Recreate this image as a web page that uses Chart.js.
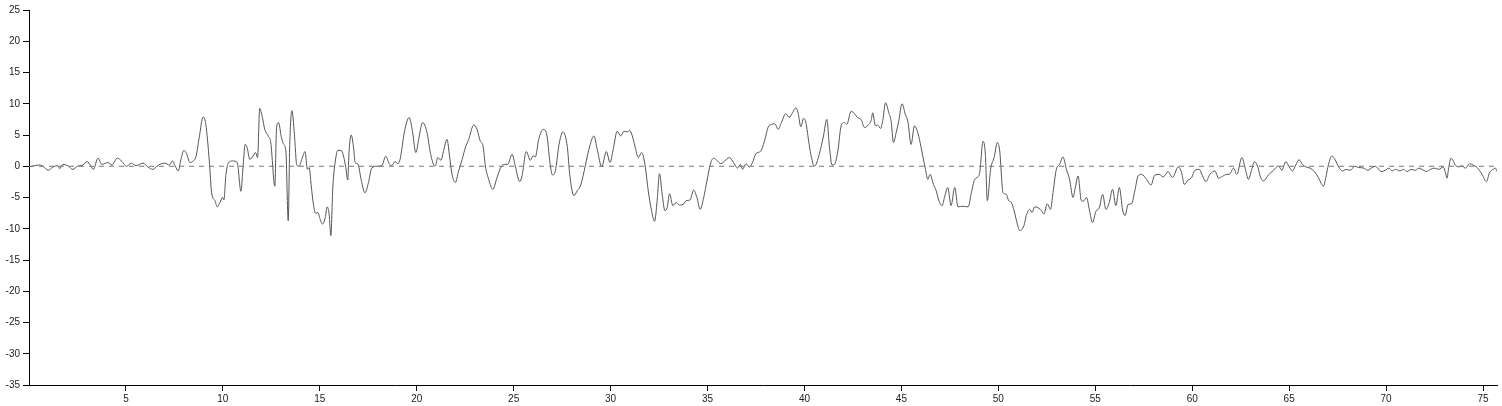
<!DOCTYPE html>
<html>
<head>
<meta charset="utf-8">
<script src="https://cdn.jsdelivr.net/npm/chart.js@4/dist/chart.umd.min.js"></script>
<style>
  html, body { margin: 0; padding: 0; background: #fff; }
  #wrap { width: 1502px; height: 406px; position: relative; }
</style>
</head>
<body>
<div id="wrap"><canvas id="chart"></canvas></div>
<script>
// ── Data (turning points of the trace) ──
const xs = [
  0, 0.55, 0.72, 1.0, 1.24, 1.5, 1.58, 1.75, 2.0, 2.27, 2.49, 2.78, 3.0, 3.18, 3.32, 3.56, 3.76, 4.07, 4.28, 4.55, 4.8, 5.03, 5.28, 5.53, 5.88, 6.13, 6.39, 6.68,
  7.01, 7.24, 7.41, 7.53, 7.7, 7.82, 7.99, 8.13, 8.3, 8.47, 8.61, 8.78, 8.98, 9.12, 9.3, 9.42, 9.59, 9.71, 9.85, 9.98, 10.05, 10.16, 10.28, 10.5, 10.74, 10.93, 11.05, 11.15, 11.25, 11.39, 11.56, 11.68, 11.79, 11.9, 12.04, 12.16, 12.34, 12.47, 12.68, 12.77, 12.87, 13.02, 13.14, 13.25, 13.37, 13.45, 13.56,
  13.69, 13.81, 13.93, 14.07, 14.24, 14.36, 14.45, 14.55, 14.67, 14.79, 14.9, 15.02, 15.14, 15.28, 15.38, 15.48, 15.57, 15.67, 15.79, 15.93, 16.1, 16.22, 16.34, 16.44, 16.51, 16.62, 16.74, 16.82, 16.96, 17.13, 17.33, 17.51, 17.68, 17.94, 18.2, 18.4, 18.58, 18.71, 18.88, 19.02, 19.14, 19.37, 19.61, 19.78, 19.95, 20.13, 20.3,
  20.53, 20.7, 20.88, 20.96, 21.08, 21.25, 21.39, 21.56, 21.7, 21.82, 21.99, 22.16, 22.34, 22.51, 22.68, 22.94, 23.11, 23.28, 23.42, 23.54, 23.71, 23.93, 24.14, 24.35, 24.52, 24.69, 24.92, 25.08, 25.31, 25.43, 25.65, 25.86, 26.0, 26.12, 26.29, 26.52, 26.72, 26.86, 27.0, 27.15,
  27.34, 27.54, 27.77, 27.89, 28.11, 28.28, 28.46, 28.63, 28.88, 29.14, 29.31, 29.54, 29.78, 29.97, 30.12, 30.34, 30.52, 30.69, 30.86, 30.98, 31.12, 31.25, 31.43, 31.6, 31.77, 31.94, 32.11, 32.27, 32.4, 32.52, 32.66, 32.8, 32.92, 33.04, 33.21, 33.38, 33.56, 33.78, 33.9,
  34.1, 34.28, 34.45, 34.62, 34.8, 34.97, 35.14, 35.31, 35.48, 35.69, 35.89, 36.12, 36.34, 36.55, 36.69, 36.81, 36.98, 37.15, 37.32, 37.49, 37.75, 37.96, 38.13, 38.3, 38.47, 38.64, 38.81, 39.04, 39.21, 39.38, 39.55, 39.67, 39.81, 39.95, 40.07, 40.24, 40.36, 40.5, 40.58, 40.76,
  40.98, 41.15, 41.29, 41.42, 41.55, 41.72, 41.89, 42.06, 42.18, 42.41, 42.58, 42.75, 42.92, 43.09, 43.32, 43.44, 43.52, 43.66, 43.78, 43.92, 44.04, 44.18, 44.35, 44.47, 44.59, 44.73, 44.86, 45.03, 45.2, 45.33, 45.5, 45.67, 45.79, 45.93, 46.1, 46.24, 46.36, 46.48, 46.65, 46.79, 46.93, 47.1, 47.22, 47.39, 47.56,
  47.75, 47.92, 48.18, 48.44, 48.61, 48.78, 48.95, 49.04, 49.21, 49.33, 49.43, 49.6, 49.78, 49.95, 50.07, 50.24, 50.41, 50.53, 50.67, 50.81, 50.98, 51.1, 51.32, 51.44, 51.62, 51.74, 51.87, 52.08, 52.22, 52.35, 52.52, 52.69, 52.82, 52.99, 53.16, 53.33, 53.51, 53.68, 53.85, 53.97, 54.11, 54.28,
  54.38, 54.55, 54.69, 54.86, 55.03, 55.2, 55.38, 55.55, 55.72, 55.89, 56.06, 56.24, 56.41, 56.53, 56.7, 56.87, 57.04, 57.21, 57.39, 57.64, 57.87, 58.07, 58.3, 58.5, 58.76, 58.98, 59.28, 59.45, 59.59, 59.79, 59.97, 60.14, 60.36, 60.53, 60.71, 60.91, 61.17,
  61.36, 61.56, 61.79, 61.91, 62.13, 62.3, 62.56, 62.73, 62.9, 63.07, 63.21, 63.38, 63.5, 63.67, 63.93, 64.19, 64.45, 64.62, 64.83, 65.0, 65.17, 65.34, 65.51, 65.68, 65.86, 66.08, 66.3, 66.51, 66.65, 66.77, 66.89, 67.03, 67.2, 67.37, 67.55, 67.75, 67.93,
  68.16, 68.37, 68.59, 68.85, 69.05, 69.28, 69.45, 69.57, 69.74, 69.96, 70.14, 70.31, 70.48, 70.71, 70.91, 71.08, 71.29, 71.51, 71.68, 71.85, 72.08, 72.29, 72.5, 72.72, 72.94, 73.06, 73.14, 73.23, 73.35, 73.45, 73.57, 73.75, 73.92, 74.09, 74.31, 74.48, 74.69, 74.95, 75.17, 75.34, 75.52, 75.64, 75.72
];

const ys = [
  -0.1, 0.2, 0, -0.64, -0.1, 0.1, -0.4, 0.3, 0.1, -0.5, 0, 0.2, 0.75, 0.1, -0.5, 1.3, 0.3, 0.6, 0.2, 1.3, 0.75, 0, 0.5, 0.1, 0.5, -0.1, -0.5, 0.2,
  0.5, 0.2, 0.85, 0.1, -0.75, 0.85, 2.55, 2.0, 0.6, 0.85, 1.5, 4.6, 7.9, 6.7, 0.85, -4.25, -5.5, -6.5, -5.8, -5.0, -5.4, -1.3, 0.5, 0.85, 0.6, -4.0, 0.3, 3.5, 3.0, 1.1, 1.65, 2.2, 1.4, 9.25, 7.8, 5.9, 4.85, 3.8, -3.2, 6.2, 7.0, 4.6, 3.5, 2.45, -8.7, 3.5, 8.9,
  5.1, 0.2, 0, 1.1, 2.35, -0.5, -0.2, -2.9, -6.1, -7.55, -7.4, -8.5, -9.25, -8.2, -6.5, -7.65, -11.1, -3.4, 0.6, 2.55, 2.55, 1.65, -0.2, -2.2, 2.45, 5.0, 3.0, 0.6, 0.4, -2.1, -4.25, -2.6, -0.3, 0, 0.1, 1.6, 0.4, 0.1, 0.75, 0.4, 1.1, 5.6, 7.8, 5.6, 2.2, 4.85, 7.0,
  5.4, 2.2, 0.2, 0.05, 1.4, 0.95, 2.55, 4.3, 1.4, -1.3, -2.6, -0.75, 1.1, 3.0, 4.3, 6.6, 5.9, 4.0, 3.25, 0.05, -2.1, -3.7, -1.8, -0.1, 0.3, 0.3, 1.9, 0.05, -2.45, -1.55, 2.35, 0.95, 1.65, 1.5, 4.3, 5.9, 4.85, 0.85, -1.4, -0.75,
  3.5, 5.5, 3.0, -1.3, -4.7, -3.9, -3.0, -0.85, 2.7, 4.85, 2.7, -0.1, 2.35, 0.6, 2.45, 5.6, 4.85, 5.6, 5.5, 5.75, 4.85, 3.25, 1.4, 2.2, 0.3, -3.9, -7.1, -8.8, -5.5, -1.2, -4.5, -7.1, -6.6, -4.4, -6.3, -5.8, -6.2, -6.0, -5.5,
  -5.4, -3.8, -5.0, -6.9, -5.0, -2.35, 0.3, 1.3, 0.95, 0.4, 0.85, 1.4, 0.6, -0.3, 0.3, -0.5, 0.4, -0.1, 0.6, 2.0, 2.45, 4.3, 6.3, 6.7, 6.8, 5.9, 7.0, 8.4, 7.8, 8.55, 9.35, 8.55, 6.3, 7.65, 7.0, 3.5, 1.4, 0.05, 0.2, 1.9,
  4.85, 7.5, 3.0, 0.2, 0.3, 2.45, 6.45, 7.0, 6.7, 8.8, 8.4, 7.75, 7.5, 6.2, 6.7, 7.35, 8.55, 6.45, 6.6, 6.05, 7.35, 10.15, 8.55, 7.2, 3.8, 5.4, 7.2, 10.0, 8.3, 7.2, 3.5, 6.45, 5.9, 4.3, 1.65, -0.5, -2.1, -1.3, -2.9, -3.9, -5.5, -6.3, -5.0, -3.4, -6.3,
  -3.4, -6.5, -6.4, -6.5, -4.2, -2.1, -1.7, -1.0, 4.0, 1.9, -5.5, -0.5, 1.4, 3.8, 2.45, -4.2, -4.5, -5.5, -5.8, -7.1, -9.25, -10.3, -9.5, -7.9, -6.9, -7.4, -6.5, -6.7, -7.1, -7.65, -6.0, -6.9, -4.2, -0.5, 0.3, 1.5, -0.5, -2.2, -5.0, -3.4, -1.55, -5.5,
  -5.6, -5.0, -6.9, -9.0, -7.2, -6.7, -4.5, -6.9, -5.8, -3.7, -6.3, -3.4, -7.0, -7.9, -6.1, -6.0, -3.9, -1.55, -1.3, -2.1, -3.0, -1.4, -1.3, -1.7, -0.85, -1.8, -0.1, -1.0, -2.9, -2.2, -1.8, -0.65, -0.5, -1.55, -2.45, -1.3, -0.75,
  -1.9, -1.6, -1.3, -1.3, -0.3, -1.3, 1.4, -0.3, -2.1, -0.5, 0.75, -0.1, -1.55, -2.35, -1.4, -0.65, 0.05, -0.65, 0.75, -0.1, -0.75, 0.2, 1.05, 0.3, -0.1, -0.3, -0.85, -1.8, -2.75, -3.2, -1.8, 0.3, 1.65, 1.05, -0.1, -0.75, -0.5,
  -0.65, 0, -0.2, -0.3, -0.65, -0.2, 0, -0.3, -0.85, -0.65, -0.3, -0.75, -0.5, -0.75, -0.5, -0.85, -0.5, -0.65, -0.3, -0.5, -0.85, -0.5, -0.3, -0.5, -0.1, -1.0, -1.9, -0.2, 1.3, 0.95, 0.2, -0.1, 0.05, -0.3, 0.4, 0.2, -0.2, -1.3, -2.45, -1.0, -0.5, -0.3, -0.85
];

const baseline = [0, 0];
const xTicks = [5, 10, 15, 20, 25, 30, 35, 40, 45, 50, 55, 60, 65, 70, 75];
const yTicks = [-35, -30, -25, -20, -15, -10, -5, 0, 5, 10, 15, 20, 25];

const xMax = xs[xs.length - 1];
const tickFont = { family: "'Liberation Sans', Arial, sans-serif", size: 10 };

new Chart(document.getElementById("chart"), {
  type: "line",
  data: {
    datasets: [
      {
        // zero reference line
        data: baseline.map((v, i) => ({ x: i === 0 ? 0 : xMax, y: v })),
        borderColor: "#777",
        borderWidth: 1,
        borderDash: [5, 5],
        pointRadius: 0,
        tension: 0,
      },
      {
        data: xs.map((x, i) => ({ x: x, y: ys[i] })),
        borderColor: "#555",
        borderWidth: 1,
        pointRadius: 0,
        cubicInterpolationMode: "monotone",
      },
    ],
  },
  options: {
    responsive: true,
    maintainAspectRatio: false,
    animation: false,
    layout: { padding: { top: 10, right: 5, left: 0, bottom: 0 } },
    plugins: { legend: { display: false }, tooltip: { enabled: false } },
    scales: {
      x: {
        type: "linear",
        min: 0,
        max: xMax,
        afterFit: (s) => { s.height = 21; },
        afterBuildTicks: (s) => { s.ticks = xTicks.map((v) => ({ value: v })); },
        grid: { drawOnChartArea: false, color: "#000", tickLength: 6 },
        border: { color: "#000" },
        ticks: { font: tickFont, color: "#222", padding: 2, maxRotation: 0, autoSkip: false },
      },
      y: {
        min: -35,
        max: 25,
        afterFit: (s) => { s.width = 29; },
        afterBuildTicks: (s) => { s.ticks = yTicks.map((v) => ({ value: v })); },
        grid: { drawOnChartArea: false, color: "#000", tickLength: 6 },
        border: { color: "#000" },
        ticks: { font: tickFont, color: "#222", padding: 3 },
      },
    },
  },
});
</script>
</body>
</html>
